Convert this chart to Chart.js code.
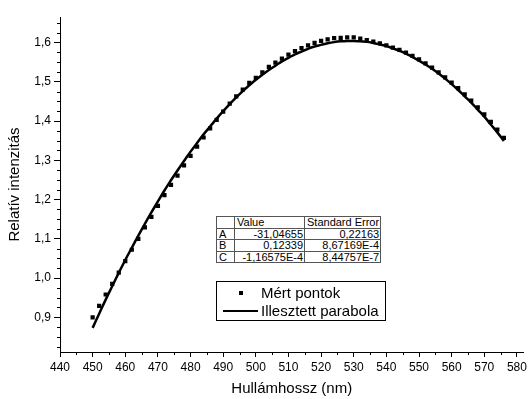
<!DOCTYPE html>
<html>
<head>
<meta charset="utf-8">
<script src="https://cdn.jsdelivr.net/npm/chart.js@4"></script>
<style>
    body { margin: 0; background: #fff; }
    #wrap { position: relative; width: 530px; height: 399px; font-family: "Liberation Sans", Arial, sans-serif; }
    #params { position: absolute; left: 216px; top: 216px; border-collapse: collapse; font-size: 11px; line-height: 10px; background: #fff; }
    #params td { border: 1px solid #555; padding: 0 1px 0 2px; height: 10.5px; white-space: nowrap; }
    #params td.num { text-align: right; }
    #legend { position: absolute; left: 216px; top: 281px; width: 168px; height: 38px; border: 1px solid #000; background: #fff; font-size: 15px; }
    #legend .row { position: absolute; left: 0; height: 18px; line-height: 18px; }
    #legend .sym { position: absolute; }
    #legend .txt { position: absolute; left: 44px; white-space: nowrap; }
</style>
</head>
<body>
<div id="wrap">
    <canvas id="chart" width="530" height="399"></canvas>
    <table id="params"></table>
    <div id="legend">
        <div class="row" style="top:2px"><span class="sym" style="left:22px;top:7px;width:4px;height:4px;background:#000"></span><span class="txt">Mért pontok</span></div>
        <div class="row" style="top:20px"><span class="sym" style="left:6px;top:8px;width:35px;height:2px;background:#000"></span><span class="txt">Illesztett parabola</span></div>
    </div>
</div>
<script>
// wavelengths (nm)
const wavelengths = [450, 452, 454, 456, 458, 460, 462, 464, 466, 468,
    470, 472, 474, 476, 478, 480, 482, 484, 486, 488,
    490, 492, 494, 496, 498, 500, 502, 504, 506, 508,
    510, 512, 514, 516, 518, 520, 522, 524, 526, 528,
    530, 532, 534, 536, 538, 540, 542, 544, 546, 548,
    550, 552, 554, 556, 558, 560, 562, 564, 566, 568,
    570, 572, 574, 576];

// measured relative intensity
const measured = [0.900, 0.929, 0.958, 0.985, 1.014, 1.043, 1.072, 1.100, 1.129, 1.156,
    1.184, 1.211, 1.237, 1.261, 1.287, 1.311, 1.335, 1.358, 1.381, 1.403,
    1.424, 1.444, 1.463, 1.480, 1.497, 1.510, 1.524, 1.538, 1.549, 1.559,
    1.569, 1.578, 1.586, 1.593, 1.599, 1.604, 1.608, 1.611, 1.612, 1.613,
    1.613, 1.610, 1.606, 1.602, 1.598, 1.593, 1.587, 1.581, 1.574, 1.566,
    1.557, 1.547, 1.536, 1.524, 1.511, 1.498, 1.484, 1.468, 1.452, 1.435,
    1.417, 1.398, 1.378, 1.357];

// fitted parabola
const fitted = [0.873, 0.909, 0.945, 0.979, 1.013, 1.046, 1.077, 1.108, 1.138, 1.167,
    1.195, 1.223, 1.249, 1.274, 1.298, 1.322, 1.344, 1.366, 1.386, 1.406,
    1.425, 1.443, 1.460, 1.476, 1.491, 1.505, 1.518, 1.530, 1.541, 1.552,
    1.561, 1.570, 1.577, 1.584, 1.590, 1.594, 1.598, 1.601, 1.603, 1.604,
    1.604, 1.603, 1.602, 1.599, 1.595, 1.591, 1.585, 1.579, 1.572, 1.563,
    1.554, 1.544, 1.533, 1.521, 1.508, 1.494, 1.479, 1.463, 1.447, 1.429,
    1.411, 1.391, 1.371, 1.349];

// fit parameter table
const paramNames = ["A", "B", "C"];
const paramValues = ["-31,04655", "0,12339", "-1,16575E-4"];
const paramErrors = ["0,22163", "8,67169E-4", "8,44757E-7"];

let tbl = document.getElementById("params");
tbl.innerHTML = '<tr><td style="width:14px"></td><td style="width:66px">Value</td><td style="width:72px">Standard Error</td></tr>' +
    paramNames.map((n, i) => '<tr><td>' + n + '</td><td class="num">' + paramValues[i] + '</td><td class="num">' + paramErrors[i] + '</td></tr>').join("");

const fontName = "'Liberation Sans', Arial, sans-serif";

// Origin style minor ticks
const minorTicks = {
    id: "minorTicks",
    afterDraw(chart) {
        let ctx = chart.ctx;
        let xs = chart.scales.x, ys = chart.scales.y;
        ctx.save();
        ctx.strokeStyle = "#000";
        ctx.lineWidth = 1;
        ctx.beginPath();
        for (let v = 445; v < xs.max; v += 10) {
            let px = Math.round(xs.getPixelForValue(v)) + 0.5;
            ctx.moveTo(px, xs.top);
            ctx.lineTo(px, xs.top + 3);
        }
        for (let k = 33; k <= 66; k++) {
            if (k % 4 == 0) continue;
            let v = k * 0.025;
            if (v < ys.min || v > ys.max) continue;
            let py = Math.round(ys.getPixelForValue(v)) + 0.5;
            ctx.moveTo(ys.right, py);
            ctx.lineTo(ys.right - 3, py);
        }
        ctx.stroke();
        ctx.restore();
    }
};

new Chart(document.getElementById("chart"), {
    type: "scatter",
    data: {
        datasets: [{
            label: "Mért pontok",
            data: wavelengths.map((w, i) => ({x: w, y: measured[i]})),
            pointStyle: "rect",
            pointRadius: 3,
            pointHoverRadius: 3,
            backgroundColor: "#000",
            borderColor: "#000",
            borderWidth: 0,
            order: 0
        }, {
            label: "Illesztett parabola",
            data: wavelengths.map((w, i) => ({x: w, y: fitted[i]})),
            showLine: true,
            pointRadius: 0,
            borderColor: "#000",
            borderWidth: 2.5,
            tension: 0.4,
            order: 1
        }]
    },
    options: {
        responsive: false,
        animation: false,
        layout: { padding: { top: 17, right: 5, left: 0, bottom: 0 } },
        plugins: { legend: { display: false }, tooltip: { enabled: false } },
        scales: {
            x: {
                type: "linear",
                min: 440,
                max: 582,
                afterFit: (s) => { s.height = 47; },
                border: { color: "#000", width: 1 },
                grid: { drawOnChartArea: false, tickLength: 5, tickColor: "#000" },
                ticks: {
                    stepSize: 10,
                    includeBounds: false,
                    padding: 3,
                    color: "#000",
                    font: { family: fontName, size: 12 },
                    callback: (v) => v
                },
                title: { display: true, text: "Hullámhossz (nm)", color: "#000", font: { family: fontName, size: 15 }, padding: { top: 0, bottom: 1 } }
            },
            y: {
                min: 0.8115,
                max: 1.665,
                afterFit: (s) => { s.width = 60; },
                border: { color: "#000", width: 1 },
                grid: { drawOnChartArea: false, tickLength: 6, tickColor: "#000" },
                ticks: {
                    stepSize: 0.1,
                    includeBounds: false,
                    padding: 3,
                    color: "#000",
                    font: { family: fontName, size: 12 },
                    callback: (v) => v.toFixed(1).replace(".", ",")
                },
                title: { display: true, text: "Relatív intenzitás", color: "#000", font: { family: fontName, size: 15 }, padding: { top: 6, bottom: 0 } }
            }
        }
    },
    plugins: [minorTicks]
});
</script>
</body>
</html>
